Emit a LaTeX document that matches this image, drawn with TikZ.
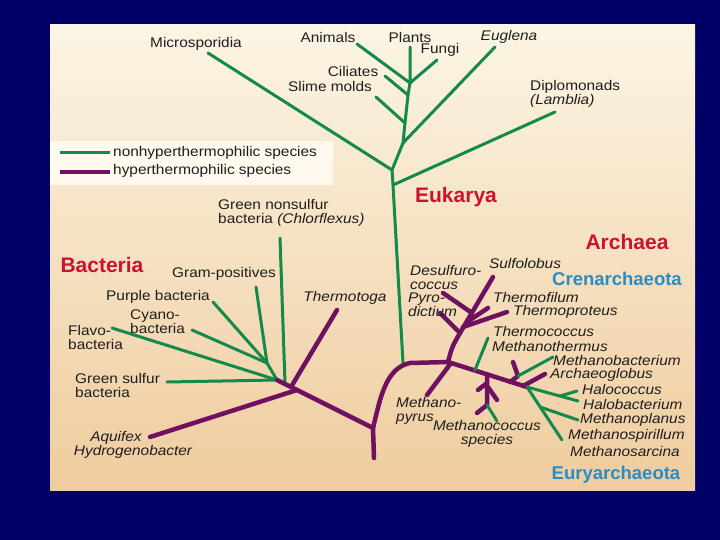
\documentclass[tikz,border=0pt]{standalone}
\usepackage{fontspec}
\setmainfont{Liberation Sans}
\newfontfamily\taxfamily[FakeStretch=1.1]{Liberation Sans}
\definecolor{navy}{HTML}{000066}
\definecolor{panelTop}{HTML}{FCF5E4}
\definecolor{panelBot}{HTML}{EFCC9E}
\definecolor{legendbg}{HTML}{FFF9EE}
\definecolor{treegreen}{HTML}{138A4B}
\definecolor{treepurple}{HTML}{701060}
\definecolor{ink}{HTML}{1E1E1E}
\definecolor{realmred}{HTML}{CC1133}
\definecolor{phylumblue}{HTML}{2B8CC4}
\begin{document}
\begin{tikzpicture}[x=1pt, y=-1pt, line join=round, line cap=round,
  nonhyper/.style={draw=treegreen, line width=3pt},
  hyper/.style={draw=treepurple, line width=4.5pt},
  taxon/.style={inner sep=0pt, text=ink, font=\taxfamily\fontsize{14}{14}\selectfont},
  genus/.style={taxon, font=\taxfamily\fontsize{14}{14}\selectfont\itshape},
  realm/.style={inner sep=0pt, text=realmred, font=\fontsize{21}{24}\selectfont\bfseries},
  phylum/.style={inner sep=0pt, text=phylumblue, font=\fontsize{18.5}{22}\selectfont\bfseries}]
	\useasboundingbox (0,0) rectangle (720,540);
	\fill[navy] (0,0) rectangle (720,540);
	\shade[top color=panelTop, bottom color=panelBot] (50,25) rectangle (695,490);
	
	% Legend
	\fill[legendbg] (50,141) rectangle (333,185);
	\coordinate (legG1) at (60,153);  \coordinate (legG2) at (110,153);
	\coordinate (legP1) at (60,172);  \coordinate (legP2) at (110,172);
	\draw[nonhyper, line cap=butt] (legG1) -- (legG2);
	\draw[hyper, line cap=butt] (legP1) -- (legP2);
	\node[taxon, anchor=west] (legNon) at (113,153) {nonhyperthermophilic species};
	\node[taxon, anchor=west] (legHyp) at (113,171) {hyperthermophilic species};
	
	% Eukarya
	\coordinate (eTop) at (410,83);
	\coordinate (eCil) at (408,95);
	\coordinate (eSli) at (405,123);
	\coordinate (eEug) at (403,143);
	\coordinate (eMic) at (392,170);
	\coordinate (eDip) at (393,185);
	\coordinate (eBase) at (403,363);
	\coordinate (tPlants) at (410,47);
	\coordinate (tFungi) at (437,60);
	\coordinate (tAnimals) at (357,44);
	\coordinate (tCiliates) at (385,76);
	\coordinate (tSlime) at (376,97);
	\coordinate (tEuglena) at (495,47);
	\coordinate (tMicro) at (208,53);
	\coordinate (tDiplo) at (555,112);
	\draw[nonhyper] (eBase) -- (eDip) -- (eMic) -- (eEug) -- (eSli) -- (eCil) -- (eTop) -- (tPlants);
	\draw[nonhyper] (eTop) -- (tFungi);
	\draw[nonhyper] (eTop) -- (tAnimals);
	\draw[nonhyper] (eCil) -- (tCiliates);
	\draw[nonhyper] (eSli) -- (tSlime);
	\draw[nonhyper] (eEug) -- (tEuglena);
	\draw[nonhyper] (eMic) -- (tMicro);
	\draw[nonhyper] (eDip) -- (tDiplo);
	
	% Root and Bacteria
	\coordinate (root) at (373,428);
	\coordinate (rootEnd) at (374,458);
	\coordinate (bJoin) at (277,380);
	\coordinate (bGram) at (267,363);
	\coordinate (bChlor) at (285,383);
	\coordinate (bThermo) at (291,387);
	\coordinate (bAqui) at (297,390);
	\coordinate (tChlor) at (280,238);
	\coordinate (tGramPos) at (256,287);
	\coordinate (tPurple) at (213,302);
	\coordinate (tCyano) at (192,330);
	\coordinate (tFlavo) at (112,328);
	\coordinate (tGreenS) at (167,382);
	\coordinate (tThermotoga) at (337,310);
	\coordinate (tAquifex) at (150,437);
	\draw[nonhyper] (tChlor) -- (bChlor);
	\draw[nonhyper] (tGramPos) -- (bGram) -- (bJoin);
	\draw[nonhyper] (tPurple) -- (bGram);
	\draw[nonhyper] (tCyano) -- (bGram);
	\draw[nonhyper] (tFlavo) -- (bJoin);
	\draw[nonhyper] (tGreenS) -- (bJoin);
	\draw[hyper] (rootEnd) -- (root) -- (bJoin);
	\draw[hyper] (bThermo) -- (tThermotoga);
	\draw[hyper] (bAqui) -- (tAquifex);
	
	% Archaea, main stem
	\coordinate (aEuk) at (410,363);
	\coordinate (aCren) at (448,362);
	\coordinate (aEnd) at (527,387);
	\draw[hyper] (root) .. controls (380,400) and (385,368) .. (aEuk) -- (aCren) -- (aEnd);
	
	% Crenarchaeota
	\coordinate (cS0) at (460,333);
	\coordinate (cProt) at (463,327);
	\coordinate (cFil) at (467,322);
	\coordinate (cDes) at (472,313);
	\coordinate (tSulfo) at (493,277);
	\coordinate (tPyro) at (440,313);
	\coordinate (tProt) at (507,312);
	\coordinate (tFil) at (488,308);
	\coordinate (tDes) at (443,293);
	\draw[hyper] (aCren) .. controls (452,347) .. (cS0) -- (tSulfo);
	\draw[hyper] (cS0) -- (tPyro);
	\draw[hyper] (cProt) -- (tProt);
	\draw[hyper] (cFil) -- (tFil);
	\draw[hyper] (cDes) -- (tDes);
	
	% Euryarchaeota
	\coordinate (mPyr) at (451,363);
	\coordinate (tMpyr) at (427,395);
	\coordinate (mTherm) at (475,370);
	\coordinate (tMtherm) at (488,338);
	\coordinate (mCoc) at (487,374);
	\coordinate (mCocA) at (487,383);
	\coordinate (mCocB) at (488,387);
	\coordinate (mCocC) at (487,405);
	\coordinate (tCocA) at (478,390);
	\coordinate (tCocB) at (497,400);
	\coordinate (tCocC) at (477,413);
	\coordinate (tCocD) at (497,421);
	\coordinate (mBac) at (510,382);
	\coordinate (mBacK) at (518,376);
	\coordinate (tBacS) at (513,362);
	\coordinate (tMbact) at (553,357);
	\coordinate (mArch) at (523,386);
	\coordinate (tArch) at (545,374);
	\draw[hyper] (mPyr) -- (tMpyr);
	\draw[nonhyper] (mTherm) -- (tMtherm);
	\draw[hyper] (mCoc) -- (mCocC) -- (tCocC);
	\draw[hyper] (mCocA) -- (tCocA);
	\draw[hyper] (mCocB) -- (tCocB);
	\draw[nonhyper] (mCocC) -- (tCocD);
	\draw[hyper] (mBac) -- (mBacK) -- (tBacS);
	\draw[nonhyper] (mBacK) -- (tMbact);
	\draw[hyper] (mArch) -- (tArch);
	
	% Halophiles and methanogens
	\coordinate (hFork) at (560,396);
	\coordinate (hPlan) at (540,407);
	\coordinate (tHbact) at (578,401);
	\coordinate (tHcoc) at (577,391);
	\coordinate (tMspir) at (562,440);
	\coordinate (tMplan) at (578,420);
	\draw[nonhyper] (aEnd) -- (tHbact);
	\draw[nonhyper] (hFork) -- (tHcoc);
	\draw[nonhyper] (aEnd) -- (tMspir);
	\draw[nonhyper] (hPlan) -- (tMplan);
	
	% Labels, Eukarya
	\node[taxon] (lMicro) at (196,44) {Microsporidia};
	\node[taxon] (lAnim) at (328,37) {Animals};
	\node[taxon] (lPlant) at (410,37) {Plants};
	\node[taxon] (lFungi) at (440,50) {Fungi};
	\node[genus] (lEugl) at (509,37) {Euglena};
	\node[taxon] (lCil) at (353,71) {Ciliates};
	\node[taxon] (lSlime) at (330,86) {Slime molds};
	\node[taxon, anchor=west, align=left] (lDiplo) at (530,94) {Diplomonads\\\textit{(Lamblia)}};
	\node[realm] (lEuk) at (456,197) {Eukarya};
	
	% Labels, Bacteria
	\node[realm] (lBact) at (102,265) {Bacteria};
	\node[taxon, anchor=west, align=left] (lChlor) at (218,213) {Green nonsulfur\\bacteria \textit{(Chlorflexus)}};
	\node[taxon] (lGram) at (224,274) {Gram-positives};
	\node[taxon] (lPurp) at (158,297) {Purple bacteria};
	\node[taxon, anchor=west, align=left] (lCyano) at (130,322) {Cyano-\\bacteria};
	\node[taxon, anchor=west, align=left] (lFlavo) at (68,337) {Flavo-\\bacteria};
	\node[taxon, anchor=west, align=left] (lGreenS) at (75,385) {Green sulfur\\bacteria};
	\node[genus] (lAqui) at (116,438) {Aquifex};
	\node[genus] (lHydro) at (133,452) {Hydrogenobacter};
	\node[genus] (lThermotoga) at (345,298) {Thermotoga};
	
	% Labels, Archaea
	\node[realm] (lArch) at (627,242) {Archaea};
	\node[phylum] (lCren) at (617,279) {Crenarchaeota};
	\node[genus] (lSulfo) at (525,263) {Sulfolobus};
	\node[genus, anchor=west, align=left] (lDes) at (410,277) {Desulfuro-\\coccus};
	\node[genus, anchor=west, align=left] (lPyro) at (408,305) {Pyro-\\dictium};
	\node[genus, anchor=west] (lTfil) at (493,297) {Thermofilum};
	\node[genus, anchor=west] (lTprot) at (513,312) {Thermoproteus};
	\node[genus, anchor=west] (lTcoc) at (493,331) {Thermococcus};
	\node[genus, anchor=west] (lMtherm) at (492,346) {Methanothermus};
	\node[genus, anchor=west] (lMbact) at (553,360) {Methanobacterium};
	\node[genus, anchor=west] (lArchg) at (550,375) {Archaeoglobus};
	\node[genus, anchor=west] (lHcoc) at (582,389) {Halococcus};
	\node[genus, anchor=west] (lHbact) at (583,404) {Halobacterium};
	\node[genus, anchor=west] (lMplan) at (580,420) {Methanoplanus};
	\node[genus, anchor=west] (lMspir) at (568,436) {Methanospirillum};
	\node[genus, anchor=west] (lMsarc) at (570,451) {Methanosarcina};
	\node[genus, anchor=west, align=left] (lMpyr) at (396,411) {Methano-\\pyrus};
	\node[genus, align=center] (lMcoc) at (487,434) {Methanococcus\\species};
	\node[phylum] (lEury) at (616,475) {Euryarchaeota};
\end{tikzpicture}
\end{document}
